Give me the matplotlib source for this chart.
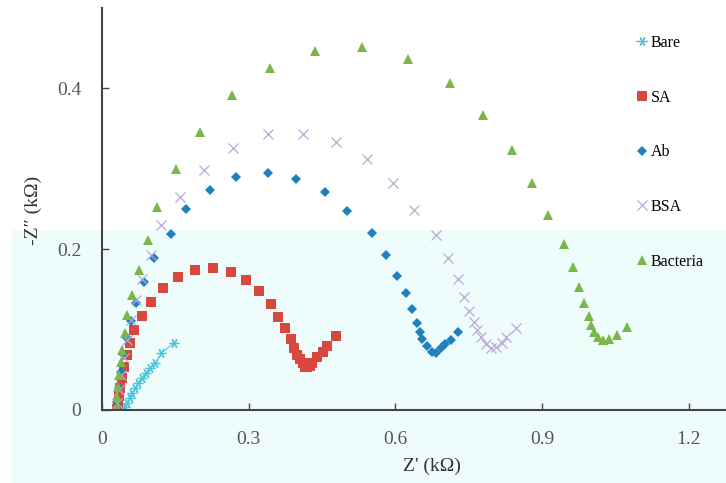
import matplotlib
matplotlib.use("Agg")
import matplotlib.pyplot as plt
from matplotlib.patches import Rectangle

# Nyquist data, Z' and -Z'' in kOhm
bare_x = [0.043, 0.047, 0.051, 0.057, 0.061, 0.068, 0.074, 0.082, 0.090, 0.098, 0.109, 0.121, 0.147]
bare_y = [0.000, 0.004, 0.009, 0.015, 0.021, 0.027, 0.034, 0.040, 0.046, 0.052, 0.058, 0.071, 0.083]

sa_x = [0.031, 0.033, 0.035, 0.037, 0.041, 0.045, 0.051, 0.057, 0.066, 0.082, 0.100, 0.125,
        0.156, 0.190, 0.227, 0.264, 0.295, 0.322, 0.346, 0.360, 0.375, 0.387, 0.393, 0.399,
        0.404, 0.410, 0.415, 0.420, 0.425, 0.430, 0.440, 0.451, 0.461, 0.479]
sa_y = [0.001, 0.009, 0.017, 0.027, 0.040, 0.053, 0.068, 0.083, 0.100, 0.117, 0.134, 0.152,
        0.165, 0.174, 0.177, 0.172, 0.162, 0.148, 0.132, 0.116, 0.102, 0.088, 0.077, 0.068,
        0.063, 0.058, 0.054, 0.053, 0.055, 0.058, 0.066, 0.072, 0.080, 0.092]

ab_x = [0.031, 0.035, 0.039, 0.045, 0.051, 0.059, 0.070, 0.086, 0.106, 0.141, 0.172, 0.221,
        0.274, 0.340, 0.397, 0.455, 0.502, 0.553, 0.580, 0.604, 0.621, 0.633, 0.645, 0.651,
        0.655, 0.664, 0.674, 0.684, 0.694, 0.702, 0.713, 0.727]
ab_y = [0.010, 0.027, 0.047, 0.068, 0.090, 0.111, 0.133, 0.159, 0.189, 0.219, 0.250, 0.274,
        0.290, 0.295, 0.287, 0.271, 0.248, 0.220, 0.193, 0.167, 0.146, 0.126, 0.108, 0.097,
        0.088, 0.080, 0.072, 0.071, 0.077, 0.082, 0.087, 0.097]

bsa_x = [0.031, 0.035, 0.039, 0.045, 0.051, 0.059, 0.070, 0.082, 0.100, 0.121, 0.160, 0.209,
         0.268, 0.340, 0.410, 0.479, 0.541, 0.596, 0.639, 0.684, 0.707, 0.727, 0.741, 0.750,
         0.760, 0.766, 0.776, 0.786, 0.795, 0.805, 0.817, 0.827, 0.846]
bsa_y = [0.009, 0.025, 0.044, 0.065, 0.087, 0.112, 0.137, 0.163, 0.193, 0.230, 0.265, 0.299,
         0.326, 0.343, 0.343, 0.333, 0.312, 0.282, 0.249, 0.218, 0.189, 0.163, 0.141, 0.123,
         0.109, 0.100, 0.091, 0.082, 0.077, 0.078, 0.083, 0.091, 0.102]

bac_x = [0.031, 0.031, 0.033, 0.035, 0.039, 0.041, 0.047, 0.051, 0.061, 0.076, 0.094, 0.113,
         0.152, 0.201, 0.266, 0.344, 0.436, 0.532, 0.625, 0.711, 0.780, 0.838, 0.879, 0.911,
         0.944, 0.963, 0.975, 0.985, 0.995, 0.999, 1.006, 1.014, 1.024, 1.036, 1.053, 1.073]
bac_y = [0.004, 0.016, 0.029, 0.044, 0.060, 0.075, 0.096, 0.118, 0.143, 0.174, 0.211, 0.253,
         0.300, 0.346, 0.392, 0.425, 0.447, 0.452, 0.437, 0.407, 0.367, 0.323, 0.282, 0.243,
         0.207, 0.178, 0.153, 0.133, 0.117, 0.106, 0.097, 0.091, 0.087, 0.088, 0.093, 0.103]

xticks = [0, 0.3, 0.6, 0.9, 1.2]
yticks = [0, 0.2, 0.4]

plt.rcParams['font.family'] = ['Liberation Serif', 'DejaVu Serif']

fig = plt.figure(figsize=(7.26, 4.83), dpi=100)
ax = fig.add_axes([102 / 726, 73 / 483, 624 / 726, 402 / 483])
ax.set_facecolor('none')

# pale cyan band behind the lower half, as in the scan
ax.add_patch(Rectangle((12 / 726, 0), 1, (483 - 230) / 483, transform=fig.transFigure,
                       facecolor='#eefdfc', edgecolor='none', zorder=-10, clip_on=False))

ax.plot(bare_x, bare_y, color='#4cc6dc', lw=0.8, marker=(6, 2, 90), ms=7, mew=0.9,
        label='Bare')
ax.plot(sa_x, sa_y, ls='none', marker='s', ms=7.5, color='#d9473f', mew=0, label='SA')
ax.plot(ab_x, ab_y, ls='none', marker='D', ms=5, color='#1f80c0', mew=0, label='Ab')
ax.plot(bsa_x, bsa_y, ls='none', marker='x', ms=7, mew=0.9, color='#bba8d6', label='BSA')
ax.plot(bac_x, bac_y, ls='none', marker='^', ms=7.5, color='#7ab648', mew=0, label='Bacteria')

ax.set_xlim(0, 1.276)
ax.set_ylim(0, 0.5)
ax.set_xticks(xticks)
ax.set_xticklabels(['0', '0.3', '0.6', '0.9', '1.2'])
ax.set_yticks(yticks)
ax.set_yticklabels(['0', '0.2', '0.4'])
ax.tick_params(direction='in', length=5, width=1, colors='#444444', labelcolor='#555555',
               labelsize=14, pad=15)
for s in ['top', 'right']:
    ax.spines[s].set_visible(False)
for s in ['left', 'bottom']:
    ax.spines[s].set_color('#444444')
    ax.spines[s].set_linewidth(1.5)

fig.text(432 / 726, 1 - 466 / 483, "Z' (k\u03a9)", ha='center', va='center', fontsize=14,
         color='#333333')
fig.text(33 / 726, 1 - 210 / 483, "-Z\u2033 (k\u03a9)", ha='center', va='center', fontsize=14,
         rotation=90, color='#333333')

ax.legend(loc='upper left', bbox_to_anchor=(636 / 726, 1 - 35 / 483),
          bbox_transform=fig.transFigure, frameon=False, fontsize=11.5, labelspacing=2.42,
          handlelength=0.7, handletextpad=0.2, borderpad=0, borderaxespad=0)

plt.savefig('out.png', dpi=100)
